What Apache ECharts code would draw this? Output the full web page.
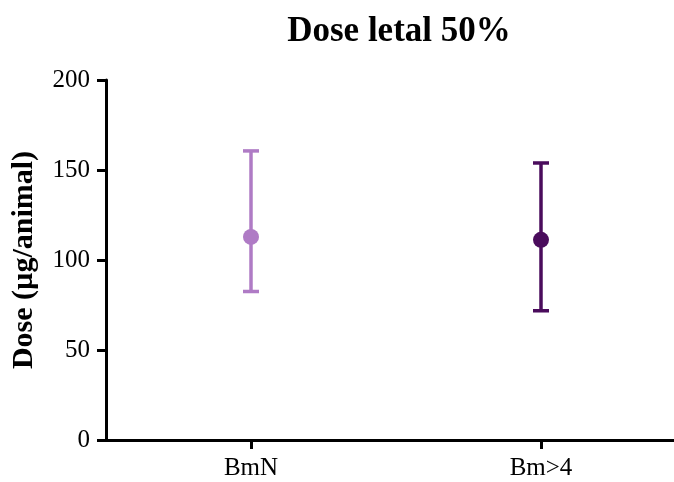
<!DOCTYPE html>
<html>
<head>
<meta charset="utf-8">
<script src="https://cdn.jsdelivr.net/npm/echarts@6/dist/echarts.min.js"></script>
<style>
  html, body { margin: 0; padding: 0; background: #fff; }
  #chart { width: 674px; height: 482px; }
</style>
</head>
<body>
<div id="chart"></div>
<script>
// values
var categories = ['BmN', 'Bm>4'];
var means = [112.8, 111.2];
var lower = [82.5, 71.8];
var upper = [160.6, 153.9];
var colors = ['#AF7BC5', '#4A0C5C'];
var yTicks = [0, 50, 100, 150, 200];

var font = 'Liberation Serif, Times New Roman, serif';
var chart = echarts.init(document.getElementById('chart'));

var errData = categories.map(function (c, i) {
    return [i, lower[i], upper[i]];
});
var dotData = categories.map(function (c, i) {
    return { value: [i, means[i]], itemStyle: { color: colors[i], opacity: 1 } };
});

var option = {
    backgroundColor: '#fff',
    animation: false,
    title: {
        text: 'Dose letal 50%',
        left: 394,
        top: 9,
        textAlign: 'center',
        textStyle: { fontFamily: font, fontSize: 35, fontWeight: 'bold', color: '#000' }
    },
    grid: { left: 106, top: 80, width: 580, bottom: 42, outerBoundsMode: 'none' },
    xAxis: {
        type: 'category',
        data: categories,
        boundaryGap: true,
        axisLine: { lineStyle: { color: '#000', width: 3 } },
        axisTick: { show: true, alignWithLabel: true, length: 9, lineStyle: { color: '#000', width: 3 } },
        axisLabel: { fontFamily: font, fontSize: 25, color: '#000', margin: 16 }
    },
    yAxis: {
        type: 'value',
        min: yTicks[0],
        max: yTicks[yTicks.length - 1],
        interval: 50,
        name: 'Dose (µg/animal)',
        nameLocation: 'middle',
        nameGap: 67,
        nameTextStyle: { fontFamily: font, fontSize: 30, fontWeight: 'bold', color: '#000' },
        splitLine: { show: false },
        axisLine: { show: true, lineStyle: { color: '#000', width: 3 } },
        axisTick: { show: true, length: 9, lineStyle: { color: '#000', width: 3 } },
        axisLabel: { fontFamily: font, fontSize: 25, color: '#000', margin: 16 }
    },
    series: [
        {
            type: 'custom',
            data: errData,
            renderItem: function (params, api) {
                var i = api.value(0);
                var lo = api.coord([i, api.value(1)]);
                var hi = api.coord([i, api.value(2)]);
                var cap = 8;
                var st = { stroke: colors[i], lineWidth: 3.5 };
                return {
                    type: 'group',
                    children: [
                        { type: 'line', shape: { x1: lo[0], y1: lo[1], x2: hi[0], y2: hi[1] }, style: st },
                        { type: 'line', shape: { x1: hi[0] - cap, y1: hi[1], x2: hi[0] + cap, y2: hi[1] }, style: st },
                        { type: 'line', shape: { x1: lo[0] - cap, y1: lo[1], x2: lo[0] + cap, y2: lo[1] }, style: st }
                    ]
                };
            },
            z: 2
        },
        {
            type: 'scatter',
            data: dotData,
            symbol: 'circle',
            symbolSize: 16,
            z: 3
        }
    ]
};
chart.setOption(option);
</script>
</body>
</html>
